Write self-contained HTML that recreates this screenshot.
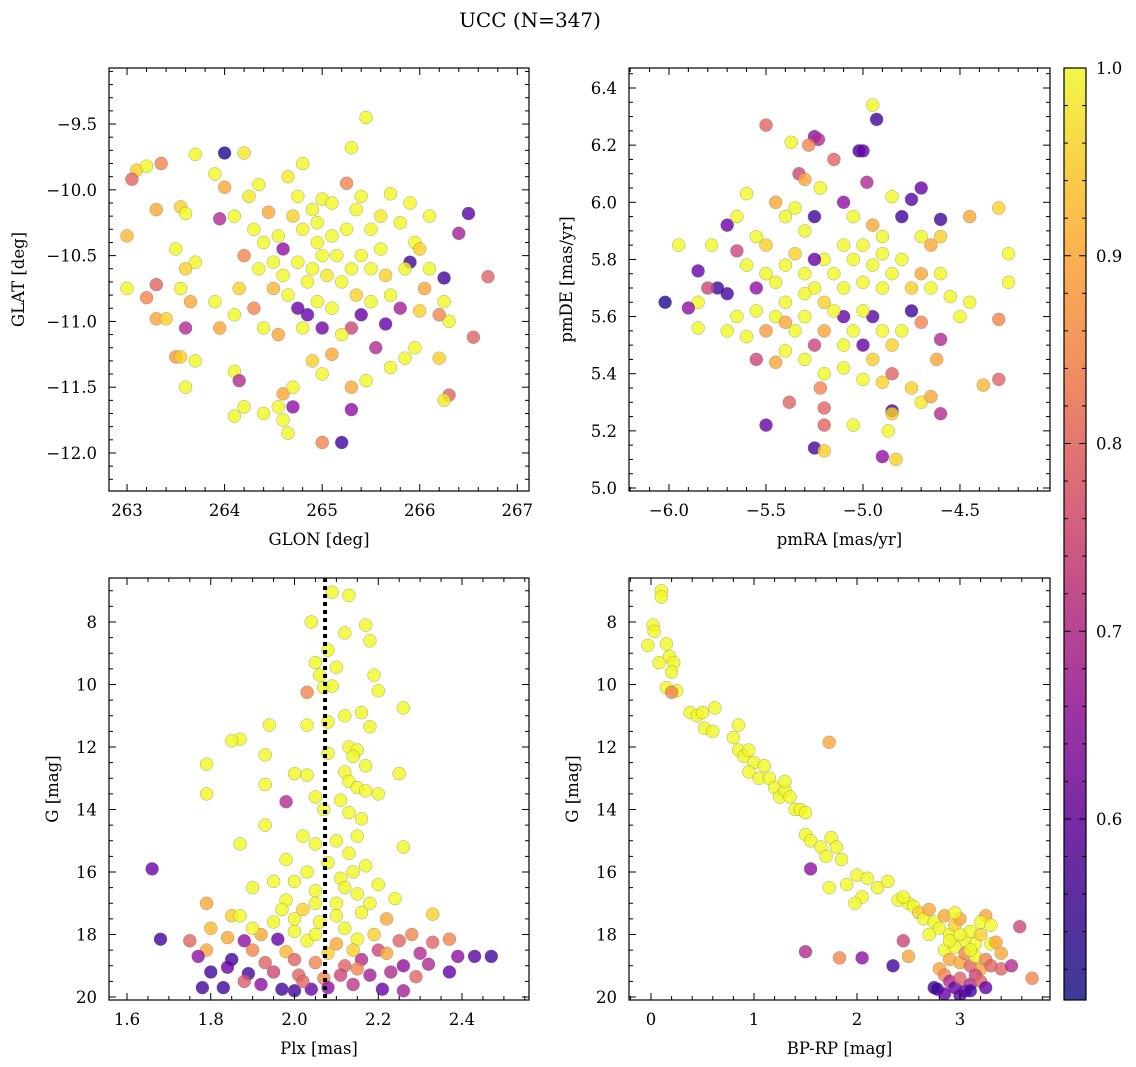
<!DOCTYPE html>
<html><head><meta charset="utf-8">
<style>
html,body{margin:0;padding:0;background:#fff;}
svg{display:block;font-family:"DejaVu Serif","Liberation Serif",serif;}
</style></head>
<body>
<svg id="fig" width="1136" height="1067" viewBox="0 0 1136 1067" xmlns="http://www.w3.org/2000/svg">
<defs>
<linearGradient id="cbgrad" x1="0" y1="1" x2="0" y2="0">
<stop offset="0" stop-color="#3d3a98"/><stop offset="0.1" stop-color="#5a2fa0"/>
<stop offset="0.2" stop-color="#7a2aa5"/><stop offset="0.3" stop-color="#9a34a3"/>
<stop offset="0.4" stop-color="#b84592"/><stop offset="0.5" stop-color="#d15d80"/>
<stop offset="0.6" stop-color="#e4786f"/><stop offset="0.7" stop-color="#f3955d"/>
<stop offset="0.8" stop-color="#fbb14e"/><stop offset="0.9" stop-color="#f9d146"/>
<stop offset="1" stop-color="#f1f748"/>
</linearGradient>
</defs>
<text x="530" y="27" font-size="20" text-anchor="middle">UCC (N=347)</text>
</svg>
<script>
const stars1=[[265.45,-9.45,1],[265.3,-9.68,1],[264.2,-9.72,.98],[264.0,-9.72,.52],[263.1,-9.85,.95],[263.2,-9.82,1],[263.05,-9.92,.8],[263.35,-9.8,.85],[263.7,-9.73,1],[264.8,-9.8,1],[265.25,-9.95,.85],[263.9,-9.88,1],[264.35,-9.96,1],[264.65,-9.9,.98],[264.0,-9.98,.9],[264.75,-10.05,1],[265.0,-10.07,1],[265.1,-10.1,1],[265.4,-10.05,1],[265.7,-10.03,1],[265.9,-10.1,1],[266.1,-10.2,1],[265.95,-10.4,1],[266.0,-10.45,.95],[266.5,-10.18,.58],[266.4,-10.33,.68],[265.9,-10.55,.55],[266.25,-10.67,.55],[266.7,-10.66,.8],[263.3,-10.15,.9],[263.55,-10.13,.95],[263.6,-10.18,1],[263.95,-10.22,.7],[264.1,-10.2,1],[264.45,-10.17,.9],[263.0,-10.35,.92],[263.5,-10.45,1],[263.7,-10.55,1],[263.6,-10.6,.95],[263.0,-10.75,1],[263.3,-10.72,.8],[263.2,-10.82,.85],[263.55,-10.75,1],[263.65,-10.85,.9],[263.3,-10.98,.9],[263.4,-10.98,.95],[263.6,-11.05,.7],[263.95,-11.05,.9],[263.5,-11.27,.88],[263.55,-11.27,.95],[263.7,-11.3,1],[263.6,-11.5,1],[264.1,-11.38,1],[264.15,-11.45,.7],[264.1,-11.72,1],[264.2,-11.65,1],[264.4,-11.7,1],[264.55,-11.65,1],[264.6,-11.75,1],[264.65,-11.85,1],[264.7,-11.65,.65],[264.6,-11.55,.9],[264.7,-11.5,1],[265.0,-11.92,.85],[265.2,-11.92,.55],[265.3,-11.67,.65],[265.3,-11.5,.9],[265.45,-11.45,1],[265.0,-11.4,1],[264.9,-11.3,.95],[265.1,-11.25,.9],[265.55,-11.2,.7],[265.7,-11.35,1],[265.85,-11.28,1],[265.95,-11.2,1],[266.2,-11.28,.95],[266.3,-11.56,.8],[266.25,-11.6,.98],[266.55,-11.12,.8],[266.3,-11.0,1],[266.2,-10.95,.85],[266.25,-10.85,1],[266.0,-10.92,.95],[265.8,-10.9,.68],[265.65,-11.02,.6],[265.7,-10.8,1],[265.5,-10.85,1],[265.4,-10.95,.6],[265.3,-11.05,.75],[265.2,-11.1,1],[265.0,-11.05,.62],[264.85,-10.95,.6],[264.8,-11.05,1],[264.55,-11.1,.9],[264.4,-11.05,1],[264.3,-10.9,.85],[264.1,-10.95,1],[263.9,-10.85,1],[264.15,-10.75,.95],[264.35,-10.6,1],[264.2,-10.5,.85],[264.5,-10.55,1],[264.6,-10.45,.65],[264.6,-10.65,1],[264.75,-10.55,1],[264.85,-10.7,1],[264.9,-10.6,1],[265.0,-10.5,1],[265.05,-10.65,.98],[264.95,-10.4,1],[265.15,-10.5,1],[265.2,-10.7,1],[265.3,-10.6,1],[265.4,-10.5,1],[265.5,-10.6,1],[265.6,-10.45,1],[265.65,-10.65,.95],[265.85,-10.6,1],[265.5,-10.3,1],[265.25,-10.3,1],[265.1,-10.35,1],[264.95,-10.25,1],[264.8,-10.3,1],[264.7,-10.2,.95],[264.55,-10.35,1],[264.4,-10.4,1],[264.3,-10.3,1],[265.35,-10.15,1],[265.6,-10.2,.98],[265.8,-10.25,1],[264.9,-10.15,1],[264.75,-10.9,.6],[264.95,-10.85,1],[265.1,-10.9,1],[264.65,-10.8,1],[264.5,-10.75,.92],[265.35,-10.8,.95],[266.1,-10.6,1],[266.05,-10.75,.9],[264.25,-10.05,.98]];
const stars2=[[-4.95,6.34,1],[-4.93,6.29,.55],[-5.5,6.27,.8],[-5.25,6.23,.65],[-5.23,6.22,.7],[-5.37,6.21,1],[-5.28,6.2,.85],[-5.15,6.15,.8],[-5.02,6.18,.55],[-5.0,6.18,.6],[-5.33,6.1,.75],[-5.3,6.08,.9],[-5.22,6.05,1],[-4.98,6.07,.7],[-4.7,6.05,.6],[-4.75,6.01,.58],[-4.85,6.02,1],[-4.8,5.95,.55],[-4.6,5.94,.55],[-4.45,5.95,.9],[-4.3,5.98,.95],[-5.6,6.03,1],[-5.45,6.0,.9],[-5.4,5.95,1],[-5.35,5.98,1],[-5.25,5.95,.55],[-5.1,6.0,.65],[-5.05,5.95,1],[-4.95,5.92,.9],[-4.9,5.88,1],[-4.7,5.88,1],[-4.6,5.88,.95],[-4.65,5.85,.9],[-5.7,5.92,.6],[-5.65,5.95,1],[-5.55,5.88,1],[-5.5,5.85,.95],[-5.78,5.85,1],[-5.95,5.85,1],[-5.65,5.83,.75],[-5.6,5.78,1],[-5.5,5.75,1],[-5.55,5.7,.65],[-5.75,5.7,.55],[-5.7,5.68,.55],[-5.85,5.76,.6],[-5.8,5.7,.75],[-5.85,5.65,1],[-6.02,5.65,.52],[-5.9,5.63,.65],[-5.85,5.56,1],[-5.7,5.55,1],[-5.65,5.6,1],[-5.6,5.53,1],[-5.55,5.45,.75],[-5.5,5.55,.88],[-5.45,5.6,1],[-5.4,5.65,1],[-5.45,5.72,1],[-5.4,5.78,1],[-5.35,5.82,.95],[-5.3,5.75,1],[-5.25,5.7,1],[-5.2,5.8,1],[-5.15,5.75,1],[-5.1,5.85,1],[-5.05,5.8,1],[-5.0,5.72,1],[-4.95,5.78,1],[-4.9,5.7,1],[-4.85,5.75,1],[-4.8,5.8,1],[-4.75,5.7,.95],[-4.7,5.75,.9],[-4.65,5.7,1],[-4.6,5.75,1],[-4.55,5.67,1],[-4.45,5.65,1],[-4.5,5.6,1],[-4.25,5.82,1],[-4.25,5.72,1],[-4.3,5.59,.85],[-4.6,5.52,.7],[-4.62,5.45,.9],[-4.7,5.58,.85],[-4.75,5.62,.55],[-4.8,5.55,1],[-4.85,5.5,.95],[-4.85,5.4,.8],[-4.9,5.55,1],[-4.95,5.6,.58],[-5.0,5.62,1],[-5.05,5.55,1],[-5.1,5.6,.6],[-5.15,5.62,1],[-5.2,5.55,.9],[-5.25,5.5,.75],[-5.3,5.6,1],[-5.35,5.55,1],[-5.4,5.48,1],[-5.45,5.44,.9],[-5.3,5.45,1],[-5.2,5.4,1],[-5.22,5.35,.85],[-5.1,5.42,1],[-5.0,5.38,1],[-4.9,5.37,.95],[-4.75,5.35,.95],[-4.7,5.3,.98],[-4.65,5.32,.9],[-4.85,5.27,.55],[-4.6,5.26,.7],[-4.38,5.36,.92],[-4.3,5.38,.8],[-5.38,5.3,.8],[-5.5,5.22,.6],[-5.2,5.28,.8],[-5.2,5.22,.8],[-5.25,5.14,.55],[-5.2,5.13,.95],[-5.05,5.22,1],[-4.85,5.26,.95],[-4.87,5.2,1],[-4.9,5.11,.65],[-4.83,5.1,.95],[-5.25,5.8,.6],[-5.3,5.9,1],[-5.0,5.85,1],[-4.9,5.82,1],[-5.1,5.7,1],[-5.2,5.65,.95],[-5.3,5.68,1],[-5.0,5.5,.6],[-4.95,5.45,.95],[-5.1,5.5,1],[-5.55,5.62,1],[-5.4,5.58,.9]];
const stars3=[[2.09,7.05,1],[2.13,7.15,1],[2.04,8.0,1],[2.12,8.35,1],[2.17,8.1,1],[2.18,8.6,1],[2.08,8.9,1],[2.05,9.3,1],[2.1,9.45,1],[2.06,9.7,1],[2.19,9.7,1],[2.03,10.25,.85],[2.07,10.1,1],[2.09,10.05,1],[2.2,10.2,1],[2.26,10.75,1],[2.16,10.9,1],[2.12,11.0,1],[2.08,11.2,1],[2.03,11.3,1],[1.94,11.3,1],[2.18,11.35,1],[1.87,11.75,1],[1.85,11.8,1],[2.13,12.0,1],[2.15,12.1,1],[2.08,12.2,1],[2.14,12.3,1],[2.17,12.6,1],[1.93,12.25,1],[1.79,12.55,1],[2.12,12.8,1],[2.25,12.85,1],[2.0,12.85,1],[2.03,12.9,1],[2.13,13.1,1],[2.15,13.3,1],[2.17,13.4,1],[1.79,13.5,1],[1.93,13.2,1],[2.05,13.6,1],[2.11,13.7,1],[2.2,13.5,1],[1.98,13.75,.7],[2.07,14.0,1],[2.13,14.1,1],[2.16,14.3,1],[1.93,14.5,1],[2.02,14.85,1],[2.15,14.85,1],[2.05,15.1,1],[2.26,15.2,1],[1.87,15.1,1],[2.13,15.4,1],[1.98,15.6,1],[2.08,15.7,1],[2.17,15.8,1],[2.03,16.0,1],[2.11,16.2,1],[2.2,16.4,1],[1.95,16.3,1],[2.0,16.3,1],[1.66,15.9,.6],[1.9,16.5,1],[2.05,16.6,1],[2.15,16.7,1],[2.24,16.85,1],[1.98,16.9,1],[2.1,17.0,1],[1.79,17.0,.9],[1.85,17.4,.95],[1.87,17.4,1],[2.33,17.35,.95],[2.02,17.2,.95],[2.16,17.3,1],[2.22,17.5,.9],[1.95,17.6,1],[2.06,17.6,1],[2.12,17.8,1],[1.8,17.8,.92],[2.0,17.9,1],[1.92,18.0,.9],[2.19,18.0,.95],[2.28,18.0,.85],[1.68,18.15,.55],[1.75,18.2,.8],[1.84,18.1,.9],[1.88,18.2,.65],[1.96,18.15,.6],[2.03,18.2,1],[2.1,18.3,.9],[2.15,18.15,1],[2.25,18.2,.8],[2.33,18.25,.8],[2.37,18.15,.85],[2.43,18.7,.58],[2.47,18.7,.55],[2.39,18.7,.65],[1.79,18.5,.9],[1.9,18.5,.85],[1.98,18.55,.92],[2.08,18.6,.95],[2.2,18.5,.75],[2.3,18.6,.7],[1.77,18.7,.65],[1.85,18.8,.55],[1.93,18.9,.8],[2.0,18.8,.8],[2.05,18.9,.85],[2.12,19.0,.8],[2.16,18.8,.7],[2.26,19.0,.65],[2.32,18.95,.7],[2.37,19.2,.6],[1.8,19.2,.55],[1.84,19.05,.6],[1.89,19.25,.55],[1.95,19.2,.75],[2.01,19.3,.8],[2.07,19.4,.85],[2.11,19.3,.75],[2.18,19.3,.68],[2.23,19.2,.7],[2.29,19.35,.8],[1.78,19.7,.55],[1.83,19.7,.55],[1.97,19.75,.55],[2.0,19.8,.55],[2.04,19.75,.6],[2.08,19.7,.65],[2.14,19.6,.72],[2.21,19.75,.6],[2.26,19.8,.68],[1.92,19.6,.65],[1.88,19.5,.78],[2.15,19.1,.85],[2.02,19.5,.8],[2.12,16.5,1],[2.1,15.0,1],[2.14,16.0,1],[2.05,17.0,1],[2.18,17.0,1],[2.0,17.5,1],[2.05,18.0,1],[2.1,17.4,1],[1.97,17.2,1],[2.14,18.5,.95],[1.9,17.8,1],[2.22,18.6,.9]];
const stars4=[[-0.03,8.75,1],[0.02,8.1,1],[0.03,8.3,1],[0.08,9.3,1],[0.1,7.0,1],[0.1,7.2,1],[0.15,8.7,1],[0.18,9.1,1],[0.22,9.3,1],[0.2,9.6,1],[0.25,10.2,1],[0.15,10.1,1],[0.2,10.25,.85],[0.38,10.9,1],[0.45,11.0,1],[0.5,10.9,1],[0.52,11.4,1],[0.6,11.5,1],[0.62,10.75,1],[0.8,11.7,1],[0.85,12.1,1],[0.9,12.3,1],[0.85,11.3,1],[0.95,12.1,1],[1.0,12.5,1],[0.95,12.8,1],[1.1,12.6,1],[1.05,13.0,1],[1.15,13.0,1],[1.2,13.3,1],[1.25,13.6,1],[1.3,13.4,1],[1.35,13.6,1],[1.4,14.0,1],[1.45,14.0,1],[1.3,13.1,1],[1.5,14.1,1],[1.5,14.8,1],[1.55,15.0,1],[1.65,15.2,1],[1.7,15.5,1],[1.75,14.9,1],[1.8,15.2,1],[1.85,15.6,1],[1.73,11.85,.9],[1.55,15.9,.65],[1.73,16.5,1],[1.9,16.4,1],[2.0,16.1,1],[2.05,16.8,1],[2.1,16.2,1],[2.2,16.5,1],[1.98,17.0,1],[2.3,16.3,1],[2.4,16.9,1],[2.5,17.0,1],[2.45,16.8,1],[2.55,17.1,1],[2.6,17.3,.95],[2.65,17.5,1],[2.7,17.2,.9],[2.75,17.6,1],[2.8,17.8,1],[2.85,17.4,.9],[2.9,18.0,1],[2.95,17.7,.95],[3.0,17.5,.9],[3.05,18.2,1],[3.1,17.9,1],[3.15,18.3,1],[3.2,18.0,.95],[3.25,17.4,.9],[3.3,18.3,1],[3.35,18.25,.9],[3.4,18.6,.9],[2.85,18.5,1],[2.9,18.8,.9],[2.95,18.4,1],[3.0,18.9,.9],[3.05,18.6,.85],[3.1,19.0,.8],[3.15,18.7,1],[3.2,19.1,.9],[3.25,18.8,.85],[3.3,19.0,.8],[3.4,19.1,.8],[3.5,19.0,.7],[3.58,17.75,.75],[3.7,19.4,.85],[2.8,19.1,.9],[2.85,19.3,.85],[2.9,19.5,.7],[2.95,19.7,.6],[3.0,19.4,.8],[3.05,19.8,.6],[3.1,19.6,.7],[3.15,19.3,.75],[3.2,19.5,.8],[3.25,19.7,.6],[2.75,19.7,.55],[2.78,19.75,.55],[2.85,19.9,.6],[3.1,19.8,.55],[2.35,19.0,.55],[1.5,18.55,.7],[1.83,18.75,.85],[2.05,18.75,.65],[2.5,18.7,.9],[2.45,18.2,.75],[3.0,19.95,.58],[2.9,18.2,1],[3.0,18.0,1],[3.1,18.5,1],[2.7,18.0,1],[2.95,17.3,1],[3.2,17.6,1],[3.3,17.7,1]];
const plxMedian=2.073;
const cbRange=[0.5036,1.0];
const cbTicks=[0.6,0.7,0.8,0.9,1.0];

const NS="http://www.w3.org/2000/svg";
const svg=document.getElementById('fig');
const stops=[[0,'#0d0887'],[.1,'#41049d'],[.2,'#6a00a8'],[.3,'#8f0da4'],[.4,'#b12a90'],[.5,'#cc4778'],[.6,'#e16462'],[.7,'#f2844b'],[.8,'#fca636'],[.9,'#fcce25'],[1,'#f0f921']];
function hx(c){return [1,3,5].map(i=>parseInt(c.substr(i,2),16));}
function plasma(v){let t=(v-cbRange[0])/(cbRange[1]-cbRange[0]);t=Math.max(0,Math.min(1,t));
 for(let i=1;i<stops.length;i++){if(t<=stops[i][0]){const a=stops[i-1],b=stops[i];const f=(t-a[0])/(b[0]-a[0]);const A=hx(a[1]),B=hx(b[1]);
 return 'rgb('+A.map((x,k)=>Math.round(x+(B[k]-x)*f)).join(',')+')';}}return stops[10][1];}
function el(tag,attrs,parent){const e=document.createElementNS(NS,tag);for(const k in attrs)e.setAttribute(k,attrs[k]);(parent||svg).appendChild(e);return e;}
function fmt(v,d){let s=v.toFixed(d);if(v<0)s='\u2212'+Math.abs(v).toFixed(d);return s;}

function panel(cfg){
 const g=el('g',{});
 
 
 const X=v=>cfg.x0+(v-cfg.xd[0])/(cfg.xd[1]-cfg.xd[0])*(cfg.x1-cfg.x0);
 const Y=cfg.yinv?(v=>cfg.y0+(v-cfg.yd[0])/(cfg.yd[1]-cfg.yd[0])*(cfg.y1-cfg.y0)):(v=>cfg.y1-(v-cfg.yd[0])/(cfg.yd[1]-cfg.yd[0])*(cfg.y1-cfg.y0));
 const cid='clip'+cfg.name;
 const cp=el('clipPath',{id:cid},g);el('rect',{x:cfg.x0,y:cfg.y0,width:cfg.x1-cfg.x0,height:cfg.y1-cfg.y0},cp);
 const pg=el('g',{'clip-path':'url(#'+cid+')'},g);
 cfg.data.forEach(d=>{
  const c=el('circle',{cx:X(d[0]).toFixed(1),cy:Y(d[1]).toFixed(1),r:6.5,fill:plasma(d[2]),'fill-opacity':0.8,stroke:'#666','stroke-width':0.4,'stroke-opacity':0.7},pg);
  
  
 });
 if(cfg.vline!==undefined){
  const l=el('line',{x1:X(cfg.vline),x2:X(cfg.vline),y1:cfg.y0,y2:cfg.y1,stroke:'#000','stroke-width':4,'stroke-dasharray':'4,4'},pg);
  
  
 }
 el('rect',{x:cfg.x0,y:cfg.y0,width:cfg.x1-cfg.x0,height:cfg.y1-cfg.y0,fill:'none',stroke:'#000','stroke-width':1.2},g);
 const eps=1e-9;
 for(let v=Math.ceil(cfg.xd[0]/cfg.xmin)*cfg.xmin;v<=cfg.xd[1]+eps;v+=cfg.xmin){
  const px=X(v);const major=Math.abs(v/cfg.xmaj-Math.round(v/cfg.xmaj))<1e-6;const L=major?7:4;
  el('line',{x1:px,x2:px,y1:cfg.y1,y2:cfg.y1-L,stroke:'#000','stroke-width':1},g);
  el('line',{x1:px,x2:px,y1:cfg.y0,y2:cfg.y0+L,stroke:'#000','stroke-width':1},g);
  if(major){const t=el('text',{x:px,y:cfg.y1+25,'font-size':16.5,'text-anchor':'middle'},g);t.textContent=fmt(Math.round(v/cfg.xmaj)*cfg.xmaj,cfg.xdec);
   }
 }
 for(let v=Math.ceil(cfg.yd[0]/cfg.ymin)*cfg.ymin;v<=cfg.yd[1]+eps;v+=cfg.ymin){
  const py=Y(v);const major=Math.abs(v/cfg.ymaj-Math.round(v/cfg.ymaj))<1e-6;const L=major?7:4;
  el('line',{x1:cfg.x0,x2:cfg.x0+L,y1:py,y2:py,stroke:'#000','stroke-width':1},g);
  el('line',{x1:cfg.x1,x2:cfg.x1-L,y1:py,y2:py,stroke:'#000','stroke-width':1},g);
  if(major){const t=el('text',{x:cfg.x0-12,y:py+6,'font-size':16.5,'text-anchor':'end'},g);t.textContent=fmt(Math.round(v/cfg.ymaj)*cfg.ymaj,cfg.ydec);
   }
 }
 const xl=el('text',{x:(cfg.x0+cfg.x1)/2,y:cfg.y1+54,'font-size':16.5,'text-anchor':'middle'},g);xl.textContent=cfg.xlabel;
 
 const yx=cfg.ylx,yy=(cfg.y0+cfg.y1)/2;
 const yl=el('text',{x:yx,y:yy,'font-size':16.5,'text-anchor':'middle',transform:'rotate(-90 '+yx+' '+yy+')'},g);yl.textContent=cfg.ylabel;
 
}
panel({name:'glon-glat-panel',x0:109,x1:529,y0:68,y1:491,xd:[262.815,267.12],yd:[-12.289,-9.074],xmaj:1,xmin:0.2,ymaj:0.5,ymin:0.1,xdec:0,ydec:1,data:stars1,xlabel:'GLON [deg]',ylabel:'GLAT [deg]',ylx:24});
panel({name:'pm-panel',x0:629,x1:1050,y0:68,y1:491,xd:[-6.206,-4.036],yd:[4.9895,6.47],xmaj:0.5,xmin:0.1,ymaj:0.2,ymin:0.05,xdec:1,ydec:1,data:stars2,xlabel:'pmRA [mas/yr]',ylabel:'pmDE [mas/yr]',ylx:572});
panel({name:'plx-g-panel',x0:109,x1:529,y0:578,y1:1000,xd:[1.557,2.560],yd:[6.592,20.096],yinv:true,xmaj:0.2,xmin:0.05,ymaj:2,ymin:0.5,xdec:1,ydec:0,data:stars3,xlabel:'Plx [mas]',ylabel:'G [mag]',ylx:58,vline:plxMedian});
panel({name:'cmd-panel',x0:629,x1:1050,y0:578,y1:1000,xd:[-0.2136,3.874],yd:[6.592,20.096],yinv:true,xmaj:1,xmin:0.2,ymaj:2,ymin:0.5,xdec:0,ydec:0,data:stars4,xlabel:'BP-RP [mag]',ylabel:'G [mag]',ylx:578});

const cb=el('g',{});


const cx0=1064,cx1=1086,cy0=68,cy1=1000;
const CY=v=>cy1-(v-cbRange[0])/(cbRange[1]-cbRange[0])*(cy1-cy0);
el('rect',{x:cx0,y:cy0,width:cx1-cx0,height:cy1-cy0,fill:'url(#cbgrad)',stroke:'#000','stroke-width':1.2},cb);
for(let v=0.52;v<=1.0001;v+=0.02){const py=CY(v);const major=Math.abs(v*10-Math.round(v*10))<1e-6;
 el('line',{x1:cx1,x2:cx1-(major?7:4),y1:py,y2:py,stroke:'#000','stroke-width':1},cb);
 el('line',{x1:cx0,x2:cx0+(major?7:4),y1:py,y2:py,stroke:'#000','stroke-width':1},cb);}
cbTicks.forEach(v=>{const t=el('text',{x:cx1+10,y:CY(v)+6,'font-size':16.5},cb);t.textContent=v.toFixed(1);
 });
</script>
</body></html>
